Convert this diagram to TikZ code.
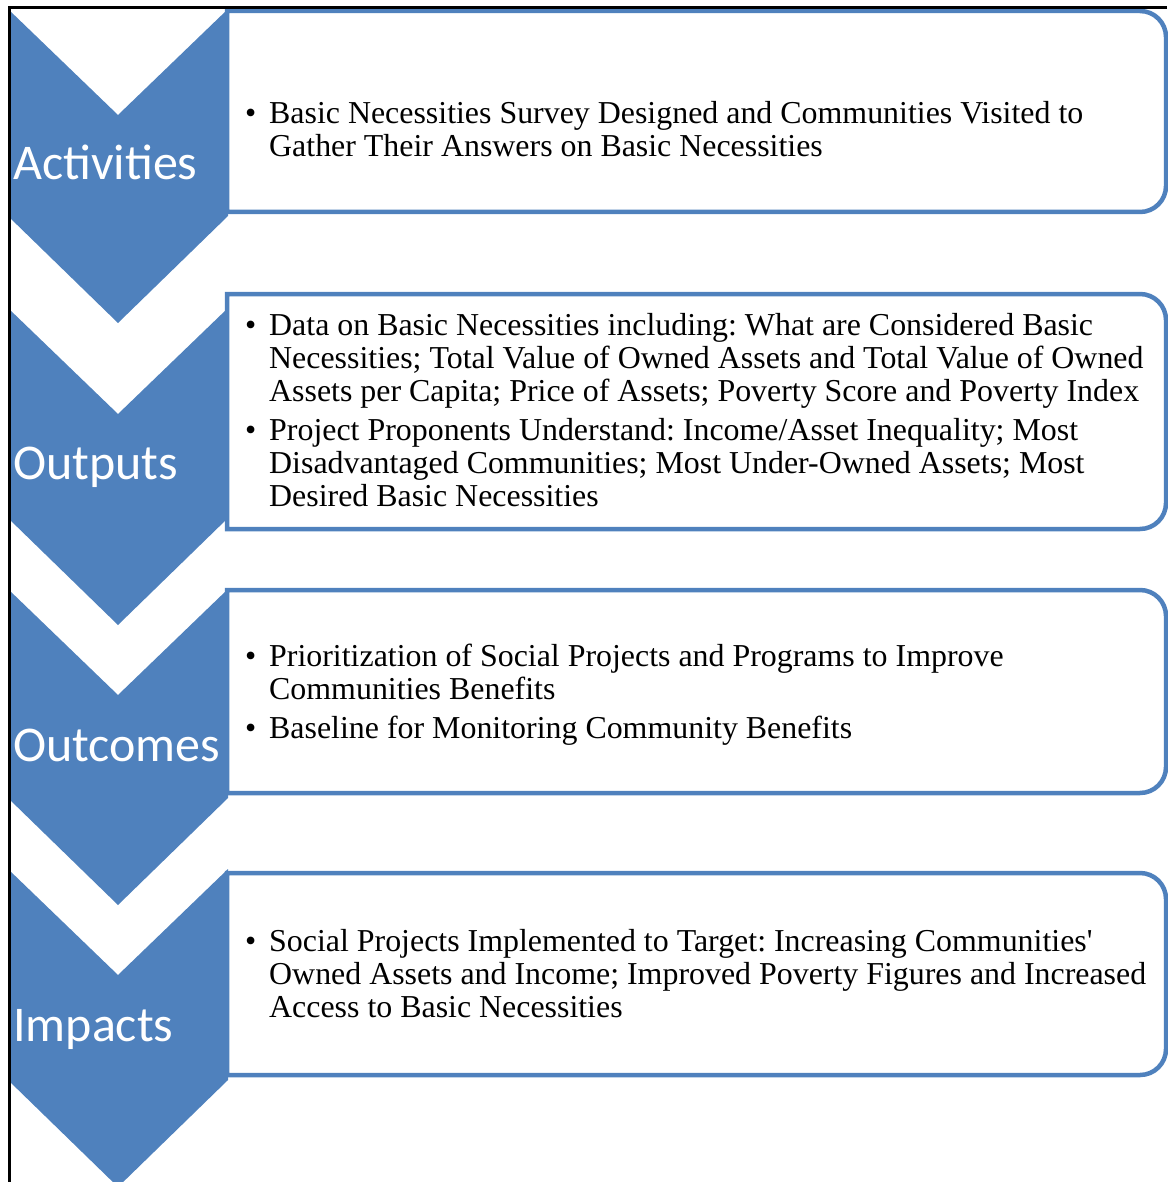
\documentclass[tikz,border=0pt]{standalone}
\usepackage{fontspec}
\setmainfont{Liberation Serif}[Ligatures=TeXOff]
\newfontfamily\labfont{Carlito}
\definecolor{obl}{HTML}{4F81BD}
\newcommand{\bul}{\makebox[24pt][l]{\textbullet}}
\tikzset{
  chev/.style={fill=obl, draw=none},
  rbox/.style={draw=obl, line width=4.5pt, fill=white},
  lab/.style={anchor=base west, inner sep=0pt, text=white, font=\labfont\fontsize{50}{60}\selectfont},
  body/.style={anchor=base west, inner sep=0pt, font=\frenchspacing\fontsize{31.9}{33}\selectfont, align=left},
  rule/.style={draw=black, line width=3pt}
}
\begin{document}
\begin{tikzpicture}[x=1pt,y=-1pt]
\useasboundingbox (0,0) rectangle (1167,1182);
% boxes
\foreach \t/\b in {11/212, 294/529, 590/793, 873/1075}{
  \draw[rbox] (227,\t) -- (1140,\t) arc[start angle=-90,end angle=0,radius=26] -- (1166,\b-26) arc[start angle=0,end angle=90,radius=26] -- (227,\b) -- cycle;
}
% chevrons
\foreach \t/\b [count=\i] in {9/216, 308/518, 589/798, 869/1080}{
  \fill[chev] (8,\t) -- (118,\t+106) -- (228,\t) -- (228,\b) -- (118,\b+107) -- (8,\b) -- cycle;
}
% labels
\node[lab] (l1) at (13,180) {Activities};
\node[lab] (l2) at (13,479) {Outputs};
\node[lab] (l3) at (13,761) {Outcomes};
\node[lab] (l4) at (13,1041) {Impacts};
% texts
\node[body] (t1) at (245,124) {\begin{tabular}[t]{@{}l@{}}
\bul Basic Necessities Survey Designed and Communities Visited to\\
\hspace*{24pt}Gather Their Answers on Basic Necessities
\end{tabular}};
\node[body] (t2) at (245,335) {\begin{tabular}[t]{@{}l@{}}
\bul Data on Basic Necessities including: What are Considered Basic\\
\hspace*{24pt}Necessities; Total Value of Owned Assets and Total Value of Owned\\
\hspace*{24pt}Assets per Capita; Price of Assets; Poverty Score and Poverty Index\\[6pt]
\bul Project Proponents Understand: Income/Asset Inequality; Most\\
\hspace*{24pt}Disadvantaged Communities; Most Under-Owned Assets; Most\\
\hspace*{24pt}Desired Basic Necessities
\end{tabular}};
\node[body] (t3) at (245,666) {\begin{tabular}[t]{@{}l@{}}
\bul Prioritization of Social Projects and Programs to Improve\\
\hspace*{24pt}Communities Benefits\\[6pt]
\bul Baseline for Monitoring Community Benefits
\end{tabular}};
\node[body] (t4) at (245,951) {\begin{tabular}[t]{@{}l@{}}
\bul Social Projects Implemented to Target: Increasing Communities'\\
\hspace*{24pt}Owned Assets and Income; Improved Poverty Figures and Increased\\
\hspace*{24pt}Access to Basic Necessities
\end{tabular}};
% black frame lines
\coordinate (c0) at (9.5,8);
\coordinate (c1) at (1167,8);
\coordinate (c2) at (9.5,1182);
\draw[rule] (c1) -- (c0) -- (c2);
\end{tikzpicture}
\end{document}
